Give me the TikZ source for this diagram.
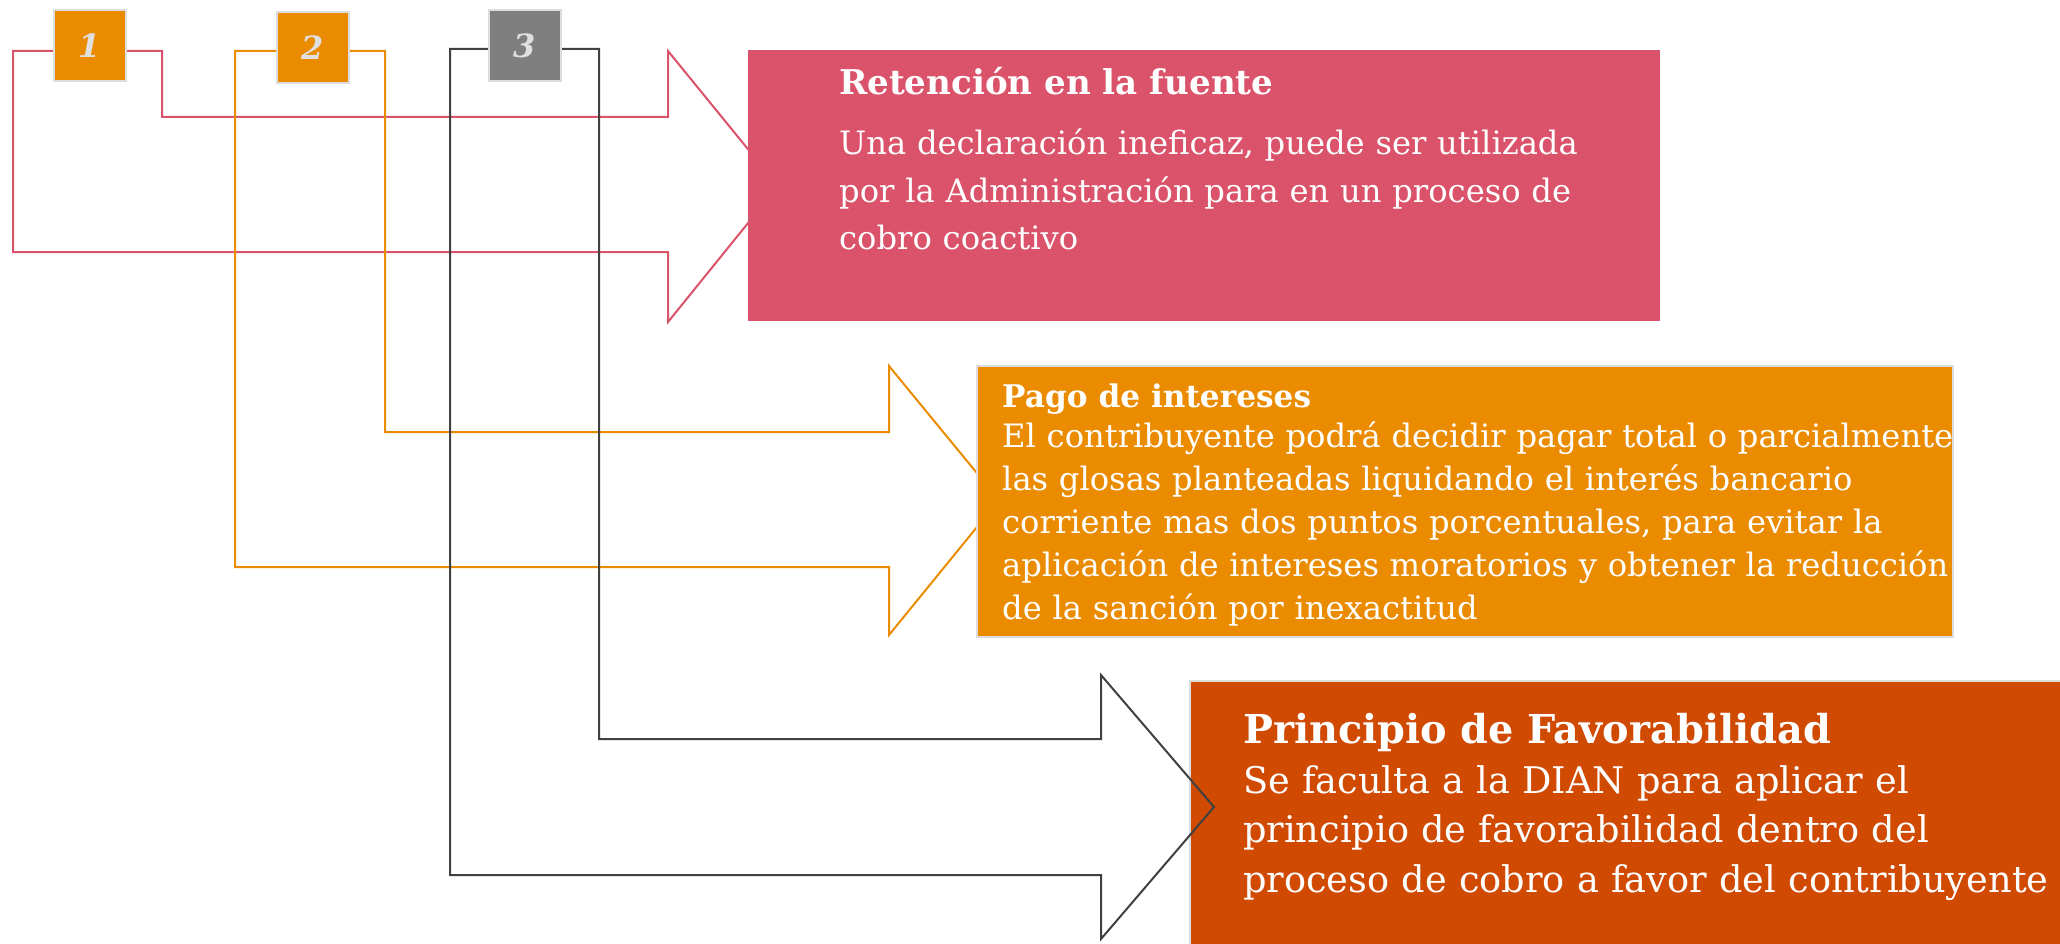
\documentclass[tikz,border=0pt]{standalone}
\usepackage{fontspec}
\setmainfont{DejaVu Serif}
\usepackage{xcolor}
\usetikzlibrary{positioning}

\definecolor{pwcrose}{HTML}{DB536A}
\definecolor{pwcorange}{HTML}{EB8C00}
\definecolor{pwctang}{HTML}{D04A02}
\definecolor{pwcgrey}{HTML}{7F7F7F}
\definecolor{linegrey}{HTML}{404040}
\definecolor{edgegrey}{HTML}{DDDDDD}

\begin{document}
\begin{tikzpicture}[
  x=1pt, y=-1pt,
  numbox/.style  = {draw=edgegrey, line width=2pt, minimum width=72pt,
                    minimum height=71pt, inner sep=0pt, text=white!88!black,
                    font=\fontsize{32}{32}\selectfont\bfseries\itshape},
  panel/.style   = {anchor=north west, inner sep=0pt},
  title/.style   = {anchor=base west, inner sep=0pt, text=white},
  body/.style    = {anchor=base west, inner sep=0pt, text=white,
                    align=left, text width=1000pt},
  outline/.style = {line width=2pt, line join=miter}
]
  \useasboundingbox (0,0) rectangle (2060,944);

  % bent arrows 1 and 2, tips hidden by their panels
  \draw[outline, draw=pwcrose] (13,51) -- (162,51) -- (162,117) -- (668,117)
    -- (668,51) -- (778,186) -- (668,322) -- (668,252) -- (13,252) -- cycle;
  \draw[outline, draw=pwcorange] (235,51) -- (385,51) -- (385,432) -- (889,432)
    -- (889,366) -- (999,500) -- (889,635) -- (889,567) -- (235,567) -- cycle;

  \node[panel, fill=pwcrose, minimum width=912pt, minimum height=271pt]
    (ret) at (748,50) {};
  \node[panel, fill=pwcorange, draw=edgegrey, line width=1.5pt,
    minimum width=976pt, minimum height=271pt] (pago) at (976,365) {};
  \node[panel, fill=pwctang, draw=edgegrey, line width=1.5pt,
    minimum width=880pt, minimum height=272pt] (fav) at (1189,680) {};

  % bent arrow 3, tip drawn over its panel
  \draw[outline, draw=linegrey] (450,49) -- (599,49) -- (599,739) -- (1101,739)
    -- (1101,675) -- (1214,807) -- (1101,939) -- (1101,875) -- (450,875) -- cycle;

  \node[numbox, fill=pwcorange] (n1) at (90,45.5) {1};
  \node[numbox, fill=pwcorange] (n2) at (312.5,48) {2};
  \node[numbox, fill=pwcgrey]   (n3) at (525,45.5) {3};

  \node[title, font=\fontsize{34.1}{40}\selectfont\bfseries] (ret-t) at (839,95)
    {Retención en la fuente};
  \node[body, font=\fontsize{32.2}{47.5}\selectfont] (ret-b) at (839,155)
    {Una declaración ineficaz, puede ser utilizada\\
     por la Administración para en un proceso de\\
     cobro coactivo};

  \node[title, font=\fontsize{31.2}{36}\selectfont\bfseries] (pago-t) at (1002,407)
    {Pago de intereses};
  \node[body, font=\fontsize{32.2}{43}\selectfont] (pago-b) at (1002,447)
    {El contribuyente podrá decidir pagar total o parcialmente\\
     las glosas planteadas liquidando el interés bancario\\
     corriente mas dos puntos porcentuales, para evitar la\\
     aplicación de intereses moratorios y obtener la reducción\\
     de la sanción por inexactitud};

  \node[title, font=\fontsize{39.8}{44}\selectfont\bfseries] (fav-t) at (1243,743)
    {Principio de Favorabilidad};
  \node[body, font=\fontsize{36.7}{49.5}\selectfont] (fav-b) at (1243,793)
    {Se faculta a la DIAN para aplicar el\\
     principio de favorabilidad dentro del\\
     proceso de cobro a favor del contribuyente};
\end{tikzpicture}
\end{document}
